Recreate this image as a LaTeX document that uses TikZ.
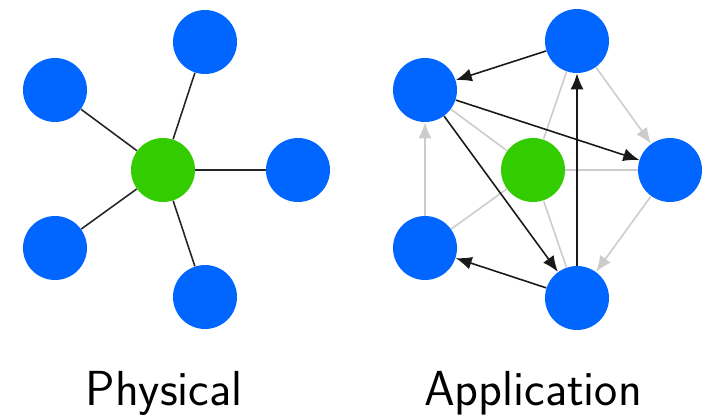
\documentclass[tikz,border=0pt]{standalone}
\usetikzlibrary{arrows.meta}

\definecolor{nodeblue}{RGB}{0,102,255}
\definecolor{nodegreen}{RGB}{51,204,0}
\definecolor{edgegray}{RGB}{204,204,204}

\begin{document}
\begin{tikzpicture}[x=0.02cm,y=-0.02cm,
    host/.style={circle,fill=nodeblue,minimum size=1.28cm,inner sep=0pt},
    hub/.style={circle,fill=nodegreen,minimum size=1.28cm,inner sep=0pt},
    wire/.style={black!85,line width=0.9pt},
    faint/.style={edgegray,line width=0.9pt},
    flow/.style={black!90,line width=0.9pt,-{Latex[length=3.2mm,width=2.6mm]}},
    faintflow/.style={edgegray,line width=0.9pt,-{Latex[length=3.2mm,width=2.6mm]}},
    caption/.style={font=\fontsize{28}{32}\selectfont\sffamily,anchor=base}]
    \useasboundingbox (0,0) rectangle (706,416);
    % physical
    \node[hub] (pc) at (163,170) {};
    \node[host] (pt) at (205,42) {};
    \node[host] (pu) at (55,90) {};
    \node[host] (pr) at (298,170) {};
    \node[host] (pl) at (55,248) {};
    \node[host] (pb) at (205,297) {};
    \foreach \n in {pt,pu,pr,pl,pb}
      \draw[wire] (pc) -- (\n);
    \node[caption] (phys) at (164,405) {Physical};
    % application
    \node[hub] (ac) at (533,170) {};
    \node[host] (at) at (577,41) {};
    \node[host] (au) at (425,90) {};
    \node[host] (ar) at (670,170) {};
    \node[host] (al) at (425,248) {};
    \node[host] (ab) at (577,298) {};
    \foreach \n in {at,au,ar,al,ab}
      \draw[faint] (ac) -- (\n);
    \draw[faintflow] (at) -- (ar);
    \draw[faintflow] (ar) -- (ab);
    \draw[faintflow] (al) -- (au);
    \draw[flow] (at) -- (au);
    \draw[flow] (au) -- (ar);
    \draw[flow] (au) -- (ab);
    \draw[flow] (ab) -- (al);
    \draw[flow] (ab) -- (at);
    \node[caption] (appl) at (533,405) {Application};
\end{tikzpicture}
\end{document}
